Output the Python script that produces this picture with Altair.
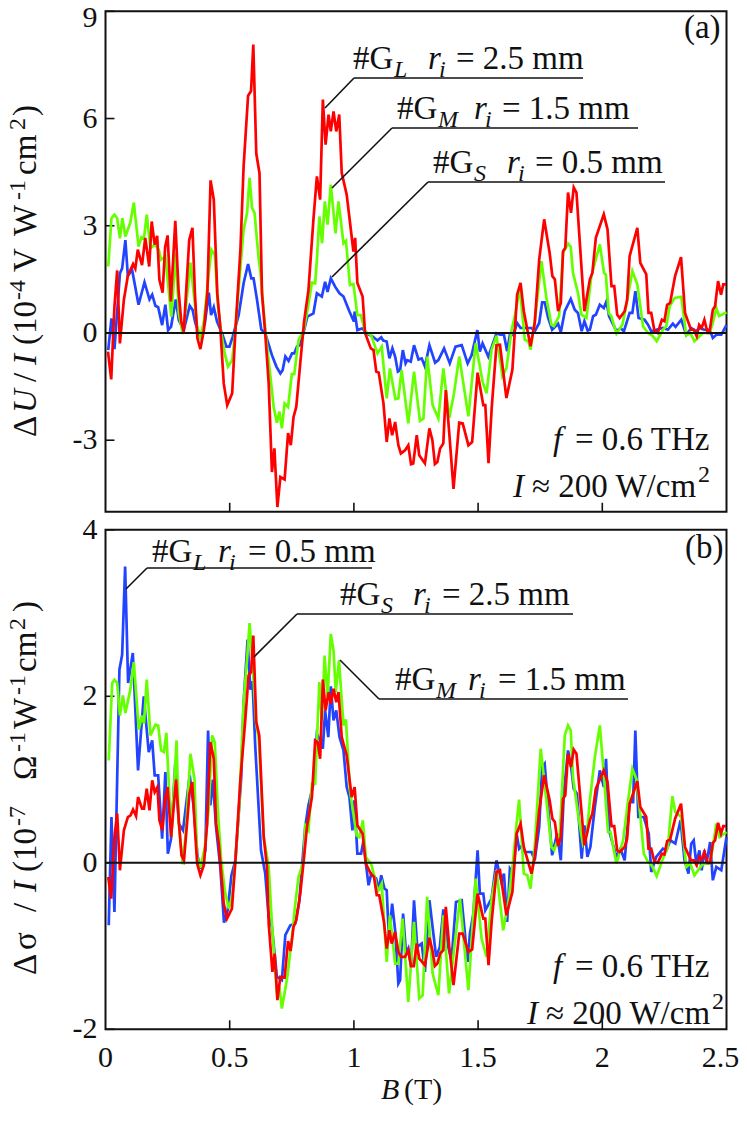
import altair as alt
import pandas as pd

FONT = "Liberation Serif"
FS = 33
SUB = 24
TICK_FS = 30
RED = "#ff0000"
GREEN = "#66ff00"
BLUE = "#2244ff"
INK = "#111111"

# page position of the plot's top left corner
OX = 105.5
OY = 11.3
PLOT_W = 621
PLOT_H = 1018

# panel (a), delta U / I
a_red_b = [.01,.023,.036,.047,.058,.074,.09,.111,.12,.13,.147,.16,.176,.186,.198,.208,.217,.23,.24,.25,.263,.281,.294,.305,.315,.337,.35,.36,.37,.382,.396,.41,.423,.436,.45,.462,.476,.49,.51,.523,.543,.556,.574,.586,.595,.607,.62,.63,.643,.657,.67,.68,.692,.704,.721,.735,.746,.757,.768,.784,.8,.817,.837,.851,.864,.875,.886,.898,.907,.918,.929,.941,.951,.971,.991,.998,1.005,1.014,1.035,1.045,1.068,1.079,1.09,1.1,1.119,1.132,1.143,1.154,1.166,1.179,1.189,1.206,1.219,1.23,1.239,1.253,1.263,1.286,1.304,1.316,1.326,1.336,1.347,1.36,1.37,1.384,1.401,1.424,1.438,1.461,1.476,1.498,1.521,1.529,1.542,1.555,1.574,1.588,1.614,1.638,1.657,1.671,1.684,1.711,1.728,1.746,1.766,1.788,1.799,1.809,1.822,1.833,1.842,1.851,1.862,1.874,1.885,1.896,1.928,1.95,1.96,1.974,2.006,2.021,2.037,2.048,2.06,2.07,2.09,2.1,2.11,2.141,2.153,2.177,2.186,2.197,2.21,2.223,2.24,2.25,2.261,2.273,2.293,2.317,2.333,2.357,2.368,2.38,2.39,2.4,2.411,2.424,2.431,2.445,2.454,2.466,2.478,2.487,2.498]
a_red_v = [-.52,-1.3,.74,1.75,-.29,.93,1.6,1.93,1.8,2.33,1.9,2.66,1.86,3.12,2.47,2.72,1.49,1.13,2.4,2.73,.88,3.14,1.2,.32,.04,2.6,2.94,1.1,-.15,-.45,.08,1.1,4.27,3.73,1.1,.18,-1.41,-2.02,-1.69,.08,2.3,4.66,6.64,6.77,8.07,5.02,4.47,1.1,0,-1.41,-3.89,-3.23,-4.87,-4.03,-4.1,-2.8,-3.14,-2.35,-2.07,-.85,.35,1.2,3.17,4.38,3.73,6.53,5.27,6.11,5.64,6.2,5.64,6.11,4.48,3.87,2.7,2.28,2.66,1.4,1.02,0,-.43,-.48,-1.08,-1.11,-1.97,-3.05,-2.39,-2.86,-2.49,-3.14,-3.37,-3.28,-3.14,-3.67,-3.65,-2.86,-3.42,-3.65,-2.67,-3.0,-3.67,-3.61,-3.23,-3.09,-1.6,-2.81,-4.36,-2.51,-2.53,-3.14,-3.05,-1.11,-2.02,-2.02,-3.64,-2.07,-.34,-.33,-1.82,-1.03,1.07,1.4,.61,-.37,.28,2.06,3.18,2.24,1.59,1.5,.61,.84,2.29,2.38,3.93,3.36,4.07,3.93,.61,1.5,1.68,2.66,3.32,2.9,1.31,1.31,.51,.42,.61,.93,2.15,2.94,1.96,1.64,.56,.56,.05,0,.37,.33,.79,.84,1.59,2.12,.56,.09,.09,-.09,.23,.14,.37,0,0,.65,.75,1.45,1.07,1.36,1.36]

a_green_b = [.011,.024,.036,.047,.058,.068,.08,.1,.114,.133,.145,.155,.166,.181,.198,.214,.224,.241,.265,.283,.295,.311,.324,.342,.358,.369,.382,.396,.413,.426,.44,.453,.466,.48,.493,.51,.523,.539,.556,.57,.58,.59,.6,.617,.623,.643,.664,.677,.69,.7,.71,.721,.735,.75,.76,.777,.798,.811,.831,.844,.851,.861,.872,.883,.894,.907,.926,.938,.958,.968,.984,.998,1.014,1.028,1.045,1.069,1.095,1.112,1.132,1.145,1.167,1.179,1.192,1.219,1.242,1.266,1.28,1.295,1.317,1.34,1.36,1.384,1.403,1.424,1.461,1.49,1.518,1.534,1.554,1.574,1.598,1.614,1.635,1.648,1.668,1.688,1.702,1.711,1.729,1.755,1.775,1.795,1.805,1.826,1.842,1.862,1.873,1.882,1.902,1.916,1.936,1.956,1.99,2.007,2.014,2.026,2.036,2.057,2.081,2.097,2.121,2.141,2.164,2.184,2.201,2.219,2.244,2.258,2.271,2.291,2.318,2.338,2.354,2.371,2.405,2.432,2.445,2.459,2.47,2.5]
a_green_v = [1.86,3.21,3.31,3.21,2.65,3.21,2.7,3.09,3.65,2.42,2.68,2.65,3.31,2.37,2.47,2.33,2.05,2.14,.46,2.24,.55,-.03,.74,1.97,.93,.18,-.12,.32,1.49,2.33,2.19,.74,-.01,-.57,-.94,-.76,.08,1.49,2.89,3.36,4.34,3.5,3.36,2.05,1.77,.08,-1.22,-2.07,-2.51,-2.2,-2.67,-1.97,-2.07,-1.15,-1.15,-.2,.08,.55,1.41,1.39,2.04,3.26,2.51,3.68,3.03,4.15,2.79,3.68,2.51,2.58,1.34,1.37,.5,.5,.04,-.06,-.57,-.38,-1.83,-.99,-1.85,-1.83,-1.04,-2.53,-1.08,-2.46,-2.39,-.66,-2.02,-2.39,-.99,-2.37,-1.69,-.66,-2.33,-.29,-1.36,-1.69,-.48,-.08,-1.21,-.98,.09,.47,1.26,-.19,-.23,-.47,.37,2.01,.98,.23,.19,.47,2.24,2.5,2.41,1.68,1.12,.51,.42,1.59,2.48,1.68,1.64,.56,.47,-.02,.23,.79,1.73,1.36,.19,0,-.07,-.23,.09,.19,.75,.98,1.01,-.07,0,-.23,0,0,.28,.7,.47,.58]

a_blue_b = [.011,.024,.036,.058,.067,.08,.09,.107,.133,.157,.177,.188,.201,.212,.228,.241,.252,.264,.283,.295,.315,.339,.351,.362,.382,.4,.416,.425,.436,.449,.469,.487,.499,.512,.536,.556,.574,.587,.596,.61,.627,.643,.67,.688,.704,.713,.724,.737,.751,.76,.771,.784,.798,.813,.837,.851,.871,.884,.894,.907,.925,.942,.958,.982,1.0,1.003,1.014,1.035,1.05,1.076,1.095,1.11,1.118,1.132,1.143,1.155,1.166,1.177,1.186,1.197,1.208,1.215,1.229,1.242,1.26,1.273,1.286,1.304,1.327,1.34,1.363,1.386,1.409,1.434,1.458,1.474,1.497,1.507,1.518,1.541,1.574,1.588,1.604,1.617,1.628,1.641,1.657,1.671,1.688,1.715,1.728,1.746,1.758,1.768,1.782,1.798,1.815,1.822,1.833,1.849,1.873,1.889,1.902,1.917,1.928,1.941,1.95,1.963,1.974,1.99,2.006,2.017,2.027,2.057,2.073,2.087,2.11,2.121,2.133,2.146,2.17,2.184,2.197,2.217,2.244,2.264,2.284,2.295,2.318,2.338,2.358,2.378,2.391,2.411,2.432,2.445,2.459,2.479,2.5]
a_blue_v = [-.48,.41,-.45,1.67,1.81,2.6,1.6,1.77,.79,1.42,.94,1.07,.76,.72,.22,.79,.08,.18,.94,.36,.08,.76,.64,.27,-.12,.27,1.13,.5,.72,.32,-.01,-.38,-.38,-.1,.5,1.39,1.93,1.53,1.53,.93,.1,-.01,-.62,-.94,-1.13,-1.04,-.66,-.78,-.57,-.57,-.38,-.34,.04,.46,.55,1.11,1.02,1.43,1.15,1.53,1.29,1.11,1.02,.6,.32,.6,.08,.13,-.01,-.1,-.21,-.12,-.21,-.24,-.71,-.43,-.66,-1.08,-1.04,-.48,-.85,-.76,-.8,-.34,-.74,-.71,-.94,-.34,-.83,-.76,-.43,-.85,-.38,-.34,-.85,-.62,.08,-.52,-.29,-.66,-.01,-.05,-.05,-.51,-.05,-.06,.28,.14,.14,.14,.05,.28,.86,.86,.42,.09,.21,.26,.02,.61,.95,.65,.56,.05,.33,.07,.09,.47,.51,.79,.7,.89,.47,.05,.14,.05,.56,.56,1.17,.42,.37,.23,.05,.09,.14,.09,.26,.17,.37,-.05,.14,.05,.14,.09,.09,-.14,-.05,-.05,.23]

# panel (b), delta sigma / I
b_blue_b = [.013,.024,.036,.056,.067,.079,.091,.11,.131,.154,.174,.188,.198,.212,.228,.241,.251,.264,.281,.295,.312,.339,.355,.37,.382,.402,.413,.422,.432,.445,.462,.477,.492,.507,.523,.546,.556,.572,.583,.592,.603,.626,.643,.657,.67,.69,.71,.724,.744,.764,.78,.804,.817,.837,.851,.864,.875,.884,.897,.907,.918,.929,.942,.958,.971,.982,.994,1.002,1.014,1.029,1.039,1.048,1.059,1.07,1.09,1.1,1.11,1.123,1.132,1.141,1.154,1.166,1.179,1.186,1.198,1.21,1.219,1.23,1.242,1.255,1.273,1.286,1.304,1.331,1.346,1.36,1.38,1.393,1.411,1.434,1.458,1.467,1.481,1.498,1.507,1.521,1.529,1.554,1.574,1.594,1.604,1.617,1.628,1.641,1.655,1.665,1.671,1.688,1.715,1.728,1.746,1.758,1.768,1.782,1.798,1.818,1.833,1.845,1.862,1.873,1.885,1.898,1.917,1.928,1.94,1.952,1.97,1.99,2.006,2.015,2.027,2.057,2.073,2.09,2.11,2.124,2.133,2.145,2.167,2.187,2.197,2.217,2.244,2.258,2.274,2.294,2.315,2.331,2.347,2.358,2.368,2.378,2.391,2.4,2.411,2.42,2.434,2.445,2.459,2.479,2.5]
b_blue_v = [-.75,.55,-.59,2.32,2.5,3.56,2.16,2.52,1.11,2.0,1.33,1.47,1.05,1.05,.29,1.09,.11,.29,1.2,.47,.39,1.05,.67,.09,-.07,.15,1.59,.69,1.0,.43,-.05,-.72,-.57,-.15,.03,1.0,1.92,2.68,2.08,2.18,1.39,.15,-.13,-.65,-.77,-1.37,-1.41,-.87,-.75,-.73,-.47,.43,.69,.95,1.55,1.47,1.37,1.83,1.51,2.12,1.71,1.83,1.51,1.35,.91,.79,.39,.75,.11,.11,.27,0,-.27,-.13,-.19,-.33,-.15,-.31,-.33,-.91,-.49,-.81,-1.45,-1.41,-.61,-1.09,-1.03,-1.25,-.45,-1.01,-.97,-1.31,-.45,-1.13,-1.01,-.56,-1.01,-1.17,-.47,-.45,-1.19,-.85,-.61,.15,-.37,-.37,-.57,-.43,.03,-.23,-.13,-.71,-.07,-.13,.35,.17,.19,.13,.13,.03,.43,1.15,1.19,.67,.09,.35,.03,.83,1.35,1.19,.89,.83,.05,.45,.07,.19,.67,1.11,.91,1.25,.39,.07,.17,.03,.73,.73,1.59,.55,.55,.35,-.11,.07,.17,.15,.27,.23,.51,.03,-.13,.23,.27,0,.15,-.09,.15,0,.25,-.21,-.05,-.09,.31]

b_green_b = [.013,.027,.036,.047,.058,.07,.08,.1,.114,.134,.147,.155,.166,.181,.201,.212,.224,.235,.245,.265,.286,.295,.311,.324,.342,.358,.369,.382,.4,.416,.429,.44,.453,.466,.48,.496,.51,.523,.539,.556,.57,.58,.592,.606,.617,.637,.657,.67,.69,.7,.71,.731,.751,.764,.777,.798,.804,.817,.831,.844,.861,.871,.882,.894,.907,.918,.927,.94,.958,.968,.984,1.011,1.022,1.036,1.048,1.07,1.085,1.095,1.112,1.132,1.145,1.166,1.179,1.196,1.219,1.242,1.263,1.277,1.295,1.317,1.34,1.36,1.383,1.403,1.427,1.461,1.49,1.514,1.534,1.554,1.574,1.601,1.621,1.641,1.655,1.665,1.684,1.698,1.711,1.728,1.752,1.775,1.795,1.806,1.829,1.849,1.862,1.873,1.882,1.902,1.922,1.938,1.95,1.97,1.99,2.006,2.023,2.033,2.057,2.084,2.104,2.121,2.137,2.151,2.167,2.184,2.201,2.219,2.244,2.264,2.282,2.294,2.318,2.338,2.354,2.371,2.405,2.432,2.445,2.459,2.472,2.5]
b_green_v = [1.23,2.16,2.2,2.16,1.77,2.01,1.8,2.08,2.41,1.6,1.77,1.67,2.2,1.53,1.66,1.65,1.35,1.33,1.56,.31,1.47,.47,-.02,.39,1.31,1.01,.07,-.06,.19,.67,1.53,1.45,.59,.03,-.33,-.55,-.41,.03,.71,1.93,2.45,2.88,2.41,1.69,1.49,.31,-.05,-.73,-1.57,-1.49,-1.75,-1.39,-.89,-.49,-.17,.03,.45,.39,.95,.95,2.17,1.71,2.49,1.99,2.75,2.55,2.05,2.43,1.65,1.72,.87,.33,.31,.51,.07,-.02,-.19,-.35,-.25,-1.19,-.63,-1.21,-1.21,-.67,-1.67,-.71,-1.63,-1.59,-.41,-1.33,-1.59,-.63,-1.57,-1.05,-.43,-1.53,-.19,-.91,-1.13,-.45,-.09,-.81,-.49,.03,.47,.76,-.13,-.15,-.31,.19,1.37,.75,.19,.15,.35,1.53,1.65,1.59,1.03,.59,.23,.35,.75,1.27,1.65,1.07,.37,.37,-.01,.27,.75,1.13,1.01,.63,.11,.01,-.04,-.16,.05,.19,.8,.61,.55,-.05,-.01,-.15,-.01,-.01,.19,.47,.31,.37]

b_red_b = [.011,.023,.036,.047,.058,.074,.09,.101,.111,.123,.131,.147,.155,.166,.177,.188,.198,.209,.217,.229,.239,.25,.264,.284,.295,.306,.316,.338,.349,.358,.369,.382,.396,.409,.422,.436,.445,.456,.476,.489,.509,.523,.543,.563,.576,.586,.595,.607,.619,.637,.65,.657,.672,.681,.692,.704,.721,.735,.745,.757,.768,.784,.798,.811,.831,.844,.854,.864,.875,.886,.898,.907,.918,.929,.938,.951,.971,.991,1.003,1.014,1.035,1.048,1.068,1.081,1.092,1.102,1.121,1.132,1.143,1.152,1.166,1.179,1.19,1.206,1.219,1.23,1.241,1.253,1.263,1.286,1.304,1.316,1.326,1.336,1.347,1.36,1.37,1.384,1.401,1.424,1.438,1.461,1.476,1.498,1.521,1.529,1.542,1.555,1.574,1.588,1.614,1.638,1.655,1.671,1.684,1.715,1.728,1.746,1.766,1.788,1.799,1.809,1.822,1.833,1.842,1.851,1.862,1.874,1.885,1.896,1.928,1.95,1.96,1.974,2.006,2.021,2.037,2.048,2.06,2.07,2.09,2.1,2.11,2.141,2.153,2.177,2.186,2.197,2.21,2.223,2.24,2.25,2.261,2.273,2.293,2.317,2.333,2.357,2.368,2.38,2.39,2.4,2.411,2.424,2.434,2.445,2.454,2.466,2.478,2.487,2.498]
b_red_v = [-.17,-.43,.31,.59,-.09,.39,.55,.57,.64,.56,.79,.65,.65,.89,.63,.99,.85,.91,.51,.39,.75,.91,.31,1.0,.51,.09,.03,.83,.97,.51,-.01,-.15,-.03,.47,1.45,1.25,.47,.23,-.49,-.67,-.55,.03,1.0,1.73,2.25,2.29,2.73,1.69,1.53,.31,-.05,-.73,-1.31,-1.09,-1.65,-1.37,-1.38,-.94,-1.06,-.77,-.69,-.37,.03,.43,.79,1.47,1.45,1.25,2.2,1.83,2.05,1.91,2.09,1.93,2.05,1.51,1.29,.79,.91,.45,.35,-.01,-.13,-.17,-.39,-.39,-.71,-1.03,-.81,-.97,-.83,-1.07,-1.13,-1.13,-1.05,-1.24,-1.24,-.97,-1.15,-1.23,-.9,-1.05,-1.24,-1.21,-1.09,-1.05,-.53,-1.01,-1.47,-.85,-.85,-1.07,-1.04,-.37,-.67,-.67,-1.23,-.69,-.11,-.09,-.63,-.35,.35,.47,.19,-.13,.07,.63,1.05,.75,.53,.49,.2,.31,.77,.81,1.31,1.15,1.36,1.31,.21,.51,.59,.89,1.11,.97,.44,.44,.15,.13,.19,.29,.71,.98,.67,.55,.17,.17,.01,0,.11,.1,.26,.28,.53,.71,.19,.03,.03,-.03,.07,.04,.13,0,0,.24,.27,.48,.35,.44,.44]

a_yticks = [-3, 0, 3, 6, 9]
b_yticks = [-2, 0, 2, 4]
x_ticks = [0, 0.5, 1, 1.5, 2, 2.5]
x_labels = ["0", "0.5", "1", "1.5", "2", "2.5"]
x_inner = [0.5, 1, 1.5, 2]

x_scale = alt.Scale(domain=[0, 2.5], nice=False, zero=False)
a_scale = alt.Scale(domain=[-5, 9], range=[500.4, 0], nice=False, zero=False)
b_scale = alt.Scale(domain=[-2, 4], range=[PLOT_H, 518.5], nice=False, zero=False)
no_x = alt.X("B:Q", scale=x_scale, axis=None)


def series(bs, vs, color, scale):
    df = pd.DataFrame({"B": bs, "v": vs})
    return alt.Chart(df).mark_line(color=color, strokeWidth=2.7, strokeJoin="miter").encode(
        x=no_x, y=alt.Y("v:Q", scale=scale, axis=None))


def tick_label(value, scale, dy=0):
    return alt.Chart(pd.DataFrame({"B": [0], "v": [value], "t": [str(value)]})).mark_text(
        align="right", baseline="middle", dx=-8, dy=dy, font=FONT, fontSize=TICK_FS, color=INK).encode(
        x=no_x, y=alt.Y("v:Q", scale=scale, axis=None), text="t:N")


def panel(lines, scale, ticks, low, tick_len):
    # frame, with inward ticks and the zero line
    frame = alt.Chart(pd.DataFrame({"B": [0], "B2": [2.5], "v": [low], "v2": [ticks[-1]]})).mark_rect(
        filled=False, stroke=INK, strokeWidth=2).encode(
        x=no_x, x2="B2:Q", y=alt.Y("v:Q", scale=scale, axis=None), y2="v2:Q")
    zero = alt.Chart(pd.DataFrame({"B": [0], "B2": [2.5], "v": [0]})).mark_rule(color=INK, strokeWidth=2).encode(
        x=no_x, x2="B2:Q", y=alt.Y("v:Q", scale=scale, axis=None))
    y_t = alt.Chart(pd.DataFrame({"B": [0] * len(ticks), "B2": [0.036] * len(ticks), "v": ticks})).mark_rule(
        color=INK, strokeWidth=1.6).encode(x=no_x, x2="B2:Q", y=alt.Y("v:Q", scale=scale, axis=None))
    x_t = alt.Chart(pd.DataFrame({"B": x_inner, "v": [low] * 4, "v2": [low + tick_len] * 4})).mark_rule(
        color=INK, strokeWidth=1.6).encode(x=no_x, y=alt.Y("v:Q", scale=scale, axis=None), y2="v2:Q")
    labels = [tick_label(t, scale, 7 if t == 9 else 0) for t in ticks]
    return alt.layer(frame, x_t, y_t, *lines, zero, *labels)


one_row = pd.DataFrame({"k": [0]})


def txt(s, px, py, size=FS, style="normal", angle=0):
    return alt.Chart(one_row).mark_text(align="left", baseline="alphabetic", font=FONT, fontSize=size,
                                        fontStyle=style, angle=angle, color=INK).encode(
        x=alt.value(px - OX), y=alt.value(py - OY), text=alt.value(s))


def seg(x1, y1, x2, y2):
    return alt.Chart(one_row).mark_rule(color=INK, strokeWidth=1.6).encode(
        x=alt.value(x1 - OX), x2=alt.value(x2 - OX), y=alt.value(y1 - OY), y2=alt.value(y2 - OY))


def callout(px, py, g, sub, r_x, eq_x, eq):
    return [txt("#G", px, py), txt(sub, g, py + 8, SUB, "italic"), txt("r", r_x, py, FS, "italic"),
            txt("i", r_x + 11, py + 8, SUB, "italic"), txt(eq, eq_x, py)]


def rot(s, py, sup=False, style="normal"):
    if sup:
        return txt(s, 25, py, SUB, style, 270)
    return txt(s, 36, py, FS, style, 270)


notes = []
# leader lines
for p in [(325, 108, 354, 78), (354, 78, 583, 78), (332, 188, 392, 128), (392, 128, 638, 128),
          (332, 277, 428, 182), (428, 182, 665, 182), (126, 589, 147, 568), (147, 568, 372, 568),
          (254, 657, 297, 614), (297, 614, 573, 614), (340, 660, 379, 699), (379, 699, 628, 699)]:
    notes.append(seg(*p))

notes += callout(353, 69, 394, "L", 428, 456, "= 2.5 mm")
notes += callout(397, 119, 438, "M", 474, 502, "= 1.5 mm")
notes += callout(433, 173, 474, "S", 507, 535, "= 0.5 mm")
notes += callout(152, 562, 193, "L", 218, 248, "= 0.5 mm")
notes += callout(340, 605, 381, "S", 413, 442, "= 2.5 mm")
notes += callout(395, 690, 436, "M", 468, 498, "= 1.5 mm")

notes += [txt("(a)", 684, 38), txt("(b)", 685, 558)]
notes += [txt("f", 553, 450, FS, "italic"), txt("= 0.6 THz", 575, 450),
          txt("I", 513, 497, FS, "italic"), txt("≈ 200 W/cm", 532, 497), txt("2", 698, 482, SUB)]
notes += [txt("f", 553, 977, FS, "italic"), txt("= 0.6 THz", 575, 977),
          txt("I", 527, 1024, FS, "italic"), txt("≈ 200 W/cm", 546, 1024), txt("2", 712, 1009, SUB)]
notes += [txt("B", 381, 1099, TICK_FS, "italic"), txt("(T)", 404, 1099, TICK_FS)]

# x tick labels under panel (b); the last one is nudged in so the page edge does not cut it
for t, s in zip(x_ticks, x_labels):
    notes.append(alt.Chart(pd.DataFrame({"B": [t], "v": [-2], "t": [s]})).mark_text(
        align="center", baseline="alphabetic", dy=38, dx=-6 if t == 2.5 else 0, font=FONT, fontSize=TICK_FS,
        color=INK).encode(x=no_x, y=alt.Y("v:Q", scale=b_scale, axis=None), text="t:N"))

# rotated axis titles, pieced together for the italics and superscripts
notes += [rot("Δ", 437), rot("U", 413, style="italic"), rot("/", 382), rot("I", 365, style="italic"),
          rot("(10", 345), rot("-4", 300, True), rot("V", 272), rot("W", 236),
          rot("-1", 200, True), rot("cm", 175), rot("2", 130, True), rot(")", 116)]
notes += [rot("Δ", 975), rot("σ", 950), rot("/", 912), rot("I", 892, style="italic"),
          rot("(10", 872), rot("-7", 826, True), rot("Ω", 780), rot("-1", 752, True),
          rot("W", 729), rot("-1", 695, True), rot("cm", 672), rot("2", 630, True), rot(")", 612)]

panel_a = panel([series(a_blue_b, a_blue_v, BLUE, a_scale), series(a_green_b, a_green_v, GREEN, a_scale),
                 series(a_red_b, a_red_v, RED, a_scale)], a_scale, a_yticks, -5, 0.25)
panel_b = panel([series(b_blue_b, b_blue_v, BLUE, b_scale), series(b_green_b, b_green_v, GREEN, b_scale),
                 series(b_red_b, b_red_v, RED, b_scale)], b_scale, b_yticks, -2, 0.108)

chart = alt.layer(panel_a, panel_b, *notes).resolve_scale(y="independent").properties(
    width=PLOT_W, height=PLOT_H,
    padding={"left": OX - 8, "top": OY - 8, "right": 12, "bottom": 90},
    autosize=alt.AutoSizeParams(type="none"),
).configure_view(stroke=None)

chart.save("out.html", embed_options={"renderer": "svg", "actions": False})
